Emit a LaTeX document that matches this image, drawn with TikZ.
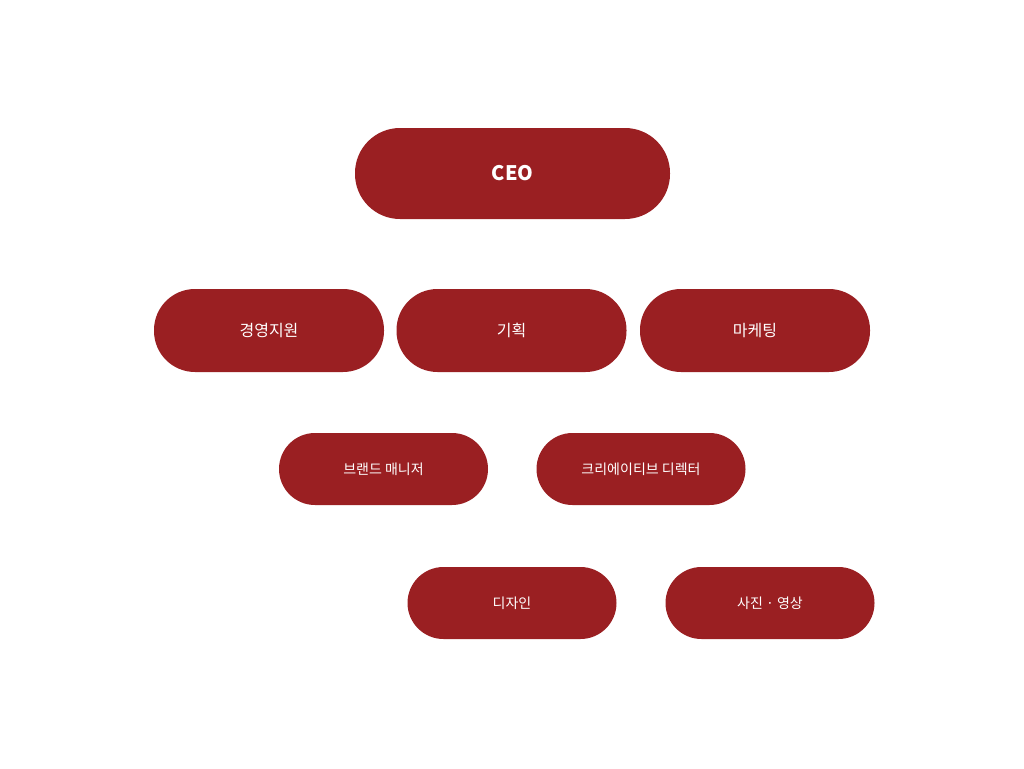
\documentclass[tikz,border=0pt]{standalone}
\usepackage{fontspec}
\setmainfont{Noto Sans CJK KR}
\begin{document}
\begin{tikzpicture}[x=1pt,y=-1pt,
 pill/.style={fill={rgb,255:red,154;green,31;blue,34},rounded corners=#1,text=white,inner sep=0pt},
 big/.style={pill=41pt,minimum width=230pt,minimum height=83pt,font=\fontsize{16}{18}\selectfont},
 small/.style={pill=36pt,minimum width=209pt,minimum height=72pt,font=\fontsize{14}{16}\selectfont}]
\useasboundingbox (0,0) rectangle (1024,768);
\node[pill=45pt,minimum width=315pt,minimum height=91pt,font=\fontsize{20}{22}\selectfont\bfseries] (ceo) at (512.5,173.5) {CEO};
\node[big] (a) at (269,330.5) {경영지원};
\node[big] (b) at (511.5,330.5) {기획};
\node[big] (c) at (755,330.5) {마케팅};
\node[small] (d) at (383.5,469) {브랜드 매니저};
\node[small] (e) at (641,469) {크리에이티브 디렉터};
\node[small] (f) at (512,603) {디자인};
\node[small] (g) at (770,603) {사진 · 영상};
\end{tikzpicture}
\end{document}
